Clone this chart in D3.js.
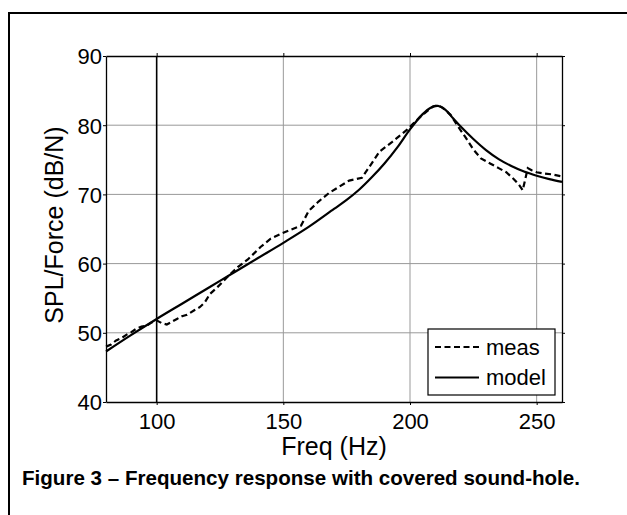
<!DOCTYPE html>
<html>
<head>
<meta charset="utf-8">
<script src="https://cdn.jsdelivr.net/npm/d3@7"></script>
<style>
  body { margin: 0; background: #fff; }
  svg { display: block; font-family: "Liberation Sans", Arial, sans-serif; }
</style>
</head>
<body>
<script>
// values
const freqModel = [80, 90, 100, 110, 120, 130, 140, 150, 160, 170, 175, 180, 185, 190, 195, 200, 205, 208, 211, 214, 217, 220, 225, 230, 235, 240, 245, 250, 255, 260];
const splModel = [47.3, 49.7, 52.0, 54.2, 56.4, 58.6, 60.8, 63.0, 65.3, 67.9, 69.2, 70.7, 72.5, 74.5, 76.8, 79.4, 81.6, 82.5, 82.8, 82.2, 81.0, 79.8, 78.0, 76.4, 75.1, 74.1, 73.3, 72.7, 72.2, 71.8];

const freqMeas = [80, 82, 84, 86, 88, 90, 92, 94, 96, 98, 100, 102, 104, 106, 108, 110, 112, 115, 117, 119, 121, 124, 128, 132, 136, 141, 145, 149, 153, 157, 160, 164, 168, 172, 176, 181, 184, 188, 193, 199, 204, 207, 209, 211, 213, 216, 219, 222, 225, 228, 232, 235, 238, 241, 243, 244.5, 246.5, 248, 250, 253, 256, 260];
const splMeas = [48.0, 48.3, 48.9, 49.2, 49.7, 50.1, 50.6, 50.9, 51.0, 51.5, 51.8, 51.4, 51.2, 51.6, 52.0, 52.4, 52.6, 53.3, 53.7, 54.4, 55.6, 56.6, 58.1, 59.5, 60.6, 62.4, 63.6, 64.3, 64.9, 65.5, 67.6, 69.0, 70.2, 71.1, 72.0, 72.4, 74.0, 76.2, 77.6, 79.4, 81.2, 82.1, 82.7, 82.9, 82.5, 81.5, 79.8, 78.2, 76.5, 75.2, 74.4, 73.8, 73.2, 72.2, 71.4, 70.6, 73.8, 73.5, 73.2, 73.0, 72.9, 72.6];

const xTicks = [100, 150, 200, 250];
const yTicks = [40, 50, 60, 70, 80, 90];
const markerFreq = [100];
const legendLabels = ["meas", "model"];

const W = 627, H = 515;
const margin = { top: 56, right: 65, bottom: 113, left: 106 };
const width = W - margin.left - margin.right,
      height = H - margin.top - margin.bottom;

const svg = d3.select("body").append("svg")
    .attr("width", W)
    .attr("height", H);

// frame of the figure: only left and top edges are in view
svg.append("path")
    .attr("d", `M9,${H} V13 H${W}`)
    .attr("fill", "none").attr("stroke", "#000").attr("stroke-width", 2);

const g = svg.append("g")
    .attr("transform", `translate(${margin.left},${margin.top})`);

const x = d3.scaleLinear().domain([80, 260]).range([0, width]);
const y = d3.scaleLinear().domain([40, 90]).range([height, 0]);

// grid
g.append("g").selectAll("line")
    .data(xTicks.filter(d => !markerFreq.includes(d)))
    .join("line")
    .attr("x1", d => x(d)).attr("x2", d => x(d))
    .attr("y1", 0).attr("y2", height)
    .attr("stroke", "#999").attr("stroke-width", 1);
g.append("g").selectAll("line")
    .data(yTicks.slice(1, -1))
    .join("line")
    .attr("x1", 0).attr("x2", width)
    .attr("y1", d => y(d)).attr("y2", d => y(d))
    .attr("stroke", "#999").attr("stroke-width", 1);

// black marker line at 100 Hz
g.append("g").selectAll("line")
    .data(markerFreq)
    .join("line")
    .attr("x1", d => x(d)).attr("x2", d => x(d))
    .attr("y1", 0).attr("y2", height)
    .attr("stroke", "#000").attr("stroke-width", 1.6);

// axes
const xAxis = g.append("g")
    .attr("transform", `translate(0,${height})`)
    .call(d3.axisBottom(x).tickValues(xTicks).tickSize(3).tickSizeOuter(0));
const xTop = g.append("g")
    .call(d3.axisTop(x).tickValues(xTicks).tickSize(3).tickSizeOuter(0).tickFormat(""));
const yAxis = g.append("g")
    .call(d3.axisLeft(y).tickValues(yTicks).tickSize(3).tickSizeOuter(0).tickPadding(1));
const yRight = g.append("g")
    .attr("transform", `translate(${width},0)`)
    .call(d3.axisRight(y).tickValues(yTicks).tickSize(3).tickSizeOuter(0).tickFormat(""));

[xAxis, xTop, yAxis, yRight].forEach(a => {
  a.select(".domain").attr("stroke", "#000").attr("stroke-width", 1.3);
  a.selectAll(".tick line").attr("stroke", "#000");
  a.selectAll("text").attr("fill", "#000").style("font-size", "22px")
    .style("font-family", "'Liberation Sans', Arial, sans-serif");
});
xAxis.selectAll("text").attr("dy", "0.71em").attr("y", 11);
yAxis.selectAll("text").attr("dy", "0.36em");

// curves
const lineMeas = d3.line().x((d, i) => x(freqMeas[i])).y(d => y(d));
const lineModel = d3.line().x((d, i) => x(freqModel[i])).y(d => y(d)).curve(d3.curveCatmullRom);

g.append("path")
    .datum(splModel)
    .attr("d", lineModel)
    .attr("fill", "none").attr("stroke", "#000").attr("stroke-width", 2.2);

g.append("path")
    .datum(splMeas)
    .attr("d", lineMeas)
    .attr("fill", "none").attr("stroke", "#000").attr("stroke-width", 2.2)
    .attr("stroke-dasharray", "6,3.5");

// axis titles
svg.append("text")
    .attr("x", margin.left + width / 2)
    .attr("y", 455)
    .attr("text-anchor", "middle")
    .style("font-size", "25px")
    .text("Freq (Hz)");

svg.append("text")
    .attr("transform", "translate(63,225) rotate(-90)")
    .attr("text-anchor", "middle")
    .style("font-size", "25px")
    .text("SPL/Force (dB/N)");

// legend
const leg = svg.append("g").attr("transform", "translate(428,329)");
leg.append("rect")
    .attr("width", 127).attr("height", 66)
    .attr("fill", "#fff").attr("stroke", "#000").attr("stroke-width", 1.2);
const items = leg.selectAll("g.item")
    .data(legendLabels)
    .join("g")
    .attr("class", "item")
    .attr("transform", (d, i) => `translate(0,${18 + i * 30.5})`);
items.append("line")
    .attr("x1", 7).attr("x2", 51)
    .attr("stroke", "#000").attr("stroke-width", 2.2)
    .attr("stroke-dasharray", (d, i) => i === 0 ? "6,3.5" : null);
items.append("text")
    .attr("x", 58).attr("dy", "0.36em")
    .style("font-size", "22px")
    .text(d => d);

// caption
svg.append("text")
    .attr("x", 22).attr("y", 485)
    .attr("textLength", 558).attr("lengthAdjust", "spacingAndGlyphs")
    .style("font-size", "20.5px").style("font-weight", "bold")
    .text("Figure 3 \u2013 Frequency response with covered sound-hole.");
</script>
</body>
</html>
